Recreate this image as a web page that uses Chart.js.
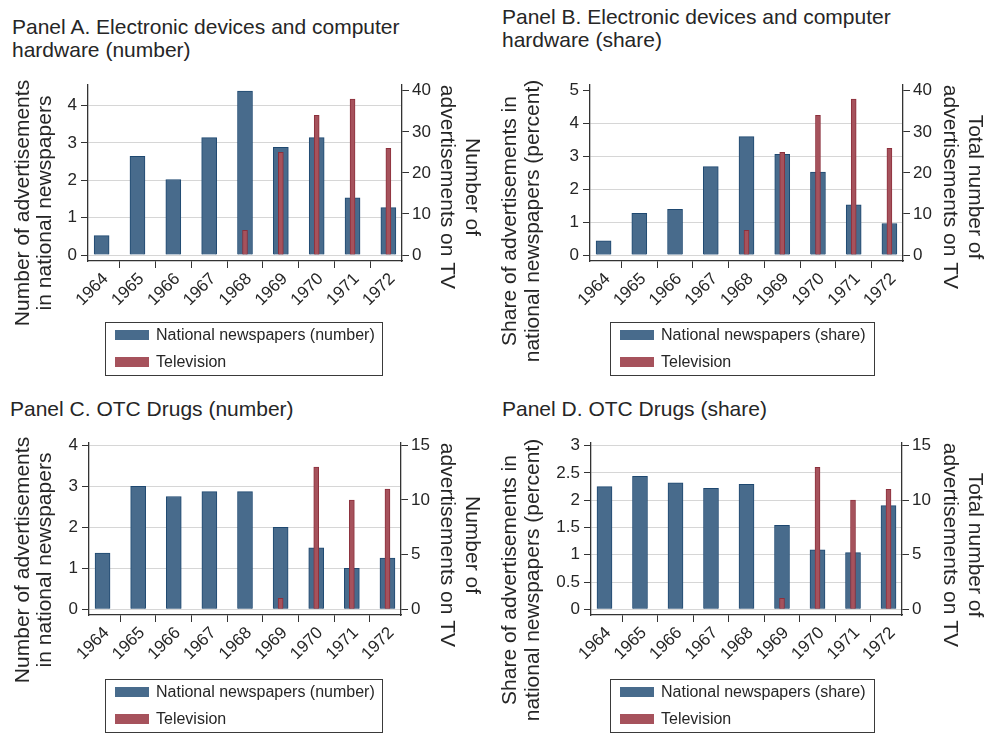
<!DOCTYPE html>
<html>
<head>
<meta charset="utf-8">
<script src="https://cdn.jsdelivr.net/npm/chart.js@4.4.1/dist/chart.umd.min.js"></script>
<style>
    body { margin: 0; background: #fff; width: 987px; height: 733px; position: relative; overflow: hidden;
           font-family: "Liberation Sans", Arial, sans-serif; color: #262626; }
    canvas { position: absolute; }
    .panel-title { position: absolute; font-size: 21px; line-height: 23px; white-space: nowrap; }
    .legend { position: absolute; border: 1.5px solid #3a3a3a; box-sizing: border-box; font-size: 16px; }
    .legend .row { position: absolute; left: 9px; display: flex; align-items: center; height: 20px; }
    .legend .swatch { width: 34px; height: 10px; margin-right: 7px; }
</style>
</head>
<body>
<script>
const FONT = '"Liberation Sans", Arial, sans-serif';

// --- data ---
const years = [1964, 1965, 1966, 1967, 1968, 1969, 1970, 1971, 1972];

const newsNumberElec = [0.52, 2.64, 2.02, 3.14, 4.39, 2.88, 3.14, 1.53, 1.27];
const newsShareElec  = [0.43, 1.27, 1.39, 2.69, 3.60, 3.06, 2.52, 1.53, 0.96];
const tvElec         = [null, null, null, null, 6, 25, 34, 38, 26];

const newsNumberOtc  = [1.37, 3.00, 2.75, 2.87, 2.87, 2.00, 1.50, 1.00, 1.25];
const newsShareOtc   = [2.25, 2.44, 2.32, 2.22, 2.29, 1.54, 1.09, 1.04, 1.90];
const tvOtc          = [null, null, null, null, null, 1, 13, 10, 11];

// tick values
const ticksNumberElec = [0, 1, 2, 3, 4];
const ticksShareElec  = [0, 1, 2, 3, 4, 5];
const ticksTvElec     = [0, 10, 20, 30, 40];
const ticksNumberOtc  = [0, 1, 2, 3, 4];
const ticksShareOtc   = [0, 0.5, 1, 1.5, 2, 2.5, 3];
const ticksTvOtc      = [0, 5, 10, 15];

const BLUE = 'rgb(72, 107, 140)';
const BLUE_EDGE = 'rgb(30, 72, 112)';
const RED = 'rgb(166, 82, 92)';
const RED_EDGE = 'rgb(140, 48, 60)';

// layout of the four panels (page pixels)
const panels = [
    {
        title: ['Panel A. Electronic devices and computer', 'hardware (number)'], titlePos: [12, 15],
        box: { x: 0, y: 0, w: 493, h: 380 }, area: { l: 88, r: 402, t: 85, b: 261 },
        news: newsNumberElec, tv: tvElec, newsLabel: 'National newspapers (number)',
        left: [-0.16, 4.55], leftTicks: ticksNumberElec, right: [-1.46, 41.4], rightTicks: ticksTvElec,
        noGrid: null,
        leftTitle: ['Number of advertisements', 'in national newspapers'], leftX: [23, 45], leftY: 203,
        rightTitle: ['Number of', 'advertisements on TV'], rightX: [472, 447], rightY: 187,
        legend: { x: 105, y: 322, w: 278, h: 54 }
    },
    {
        title: ['Panel B. Electronic devices and computer', 'hardware (share)'], titlePos: [502, 5],
        box: { x: 493, y: 0, w: 494, h: 380 }, area: { l: 590, r: 903, t: 85, b: 261 },
        news: newsShareElec, tv: tvElec, newsLabel: 'National newspapers (share)',
        left: [-0.18, 5.17], leftTicks: ticksShareElec, right: [-1.46, 41.4], rightTicks: ticksTvElec,
        noGrid: 5,
        leftTitle: ['Share of advertisements in', 'national newspapers (percent)'], leftX: [510, 533], leftY: 221,
        rightTitle: ['Total number of', 'advertisements on TV'], rightX: [975, 950], rightY: 187,
        legend: { x: 610, y: 322, w: 265, h: 54 }
    },
    {
        title: ['Panel C. OTC Drugs (number)'], titlePos: [10, 397],
        box: { x: 0, y: 380, w: 493, h: 353 }, area: { l: 89, r: 401, t: 443, b: 615 },
        news: newsNumberOtc, tv: tvOtc, newsLabel: 'National newspapers (number)',
        left: [-0.14, 4.056], leftTicks: ticksNumberOtc, right: [-0.52, 15.21], rightTicks: ticksTvOtc,
        noGrid: null,
        leftTitle: ['Number of advertisements', 'in national newspapers'], leftX: [23, 45], leftY: 560,
        rightTitle: ['Number of', 'advertisements on TV'], rightX: [472, 447], rightY: 545,
        legend: { x: 105, y: 679, w: 278, h: 54 }
    },
    {
        title: ['Panel D. OTC Drugs (share)'], titlePos: [502, 397],
        box: { x: 493, y: 380, w: 494, h: 353 }, area: { l: 591, r: 902, t: 443, b: 615 },
        news: newsShareOtc, tv: tvOtc, newsLabel: 'National newspapers (share)',
        left: [-0.105, 3.05], leftTicks: ticksShareOtc, right: [-0.52, 15.24], rightTicks: ticksTvOtc,
        noGrid: null,
        leftTitle: ['Share of advertisements in', 'national newspapers (percent)'], leftX: [510, 533], leftY: 580,
        rightTitle: ['Total number of', 'advertisements on TV'], rightX: [975, 950], rightY: 545,
        legend: { x: 610, y: 679, w: 265, h: 54 }
    }
];

// draws the rotated axis titles at fixed spots (Stata centres them a bit off the plot)
function axisTitlePlugin(p) {
    return {
        id: 'axisTitles',
        afterDraw(chart) {
            const ctx = chart.ctx;
            ctx.save();
            ctx.fillStyle = '#262626';
            ctx.font = '21px ' + FONT;
            ctx.textAlign = 'center';
            ctx.textBaseline = 'middle';
            p.leftTitle.forEach((t, i) => {
                ctx.save();
                ctx.translate(p.leftX[i] - p.box.x, p.leftY - p.box.y);
                ctx.rotate(-Math.PI / 2);
                ctx.fillText(t, 0, 0);
                ctx.restore();
            });
            p.rightTitle.forEach((t, i) => {
                ctx.save();
                ctx.translate(p.rightX[i] - p.box.x, p.rightY - p.box.y);
                ctx.rotate(Math.PI / 2);
                ctx.fillText(t, 0, 0);
                ctx.restore();
            });
            ctx.restore();
        }
    };
}

function addTitle(p) {
    const div = document.createElement('div');
    div.className = 'panel-title';
    div.style.left = p.titlePos[0] + 'px';
    div.style.top = p.titlePos[1] + 'px';
    div.innerHTML = p.title.join('<br>');
    document.body.appendChild(div);
}

function addLegend(p, chart) {
    const lg = document.createElement('div');
    lg.className = 'legend';
    lg.style.left = p.legend.x + 'px';
    lg.style.top = p.legend.y + 'px';
    lg.style.width = p.legend.w + 'px';
    lg.style.height = p.legend.h + 'px';
    chart.data.datasets.forEach((ds, i) => {
        const row = document.createElement('div');
        row.className = 'row';
        row.style.top = (2 + i * 27) + 'px';
        row.innerHTML = `<span class="swatch" style="background:${ds.backgroundColor}"></span><span>${ds.label}</span>`;
        lg.appendChild(row);
    });
    document.body.appendChild(lg);
}

function makeChart(p) {
    const canvas = document.createElement('canvas');
    canvas.width = p.box.w;
    canvas.height = p.box.h;
    canvas.style.left = p.box.x + 'px';
    canvas.style.top = p.box.y + 'px';
    canvas.style.width = p.box.w + 'px';
    canvas.style.height = p.box.h + 'px';
    document.body.appendChild(canvas);

    const a = {
        l: p.area.l - p.box.x, r: p.area.r - p.box.x,
        t: p.area.t - p.box.y, b: p.area.b - p.box.y
    };
    const tickFont = { family: FONT, size: 17 };

    const chart = new Chart(canvas, {
        type: 'bar',
        data: {
            datasets: [
                {
                    label: p.newsLabel,
                    data: years.map((y, i) => ({ x: y, y: p.news[i] })),
                    backgroundColor: BLUE,
                    borderColor: BLUE_EDGE,
                    borderWidth: 1,
                    barThickness: 15,
                    grouped: false,
                    yAxisID: 'y',
                    order: 2
                },
                {
                    label: 'Television',
                    data: years.map((y, i) => ({ x: y, y: p.tv[i] })),
                    backgroundColor: RED,
                    borderColor: RED_EDGE,
                    borderWidth: 1,
                    barThickness: 5,
                    grouped: false,
                    yAxisID: 'y1',
                    order: 1
                }
            ]
        },
        options: {
            responsive: false,
            animation: false,
            layout: { padding: { top: a.t, left: 0, right: 0, bottom: 0 } },
            plugins: { legend: { display: false }, tooltip: { enabled: false } },
            scales: {
                x: {
                    type: 'linear',
                    min: 1963.62,
                    max: 1972.38,
                    offset: false,
                    afterBuildTicks: s => { s.ticks = years.map(v => ({ value: v })); },
                    afterFit: s => { s.height = p.box.h - a.b; },
                    border: { display: true, color: '#333', width: 1.3 },
                    grid: { drawOnChartArea: false, tickColor: '#333', tickLength: 7 },
                    ticks: {
                        color: '#262626', font: { family: FONT, size: 17 }, autoSkip: false,
                        minRotation: 45, maxRotation: 45, padding: 1, labelOffset: 4,
                        callback: v => String(v)
                    }
                },
                y: {
                    position: 'left',
                    min: p.left[0],
                    max: p.left[1],
                    afterBuildTicks: s => { s.ticks = p.leftTicks.map(v => ({ value: v })); },
                    afterFit: s => { s.width = a.l; },
                    border: { display: true, color: '#333', width: 1.3 },
                    grid: {
                        color: c => (c.tick && c.tick.value === p.noGrid) ? 'rgba(0,0,0,0)' : '#d6d6d6',
                        lineWidth: 1, tickColor: '#333', tickLength: 7
                    },
                    ticks: { color: '#262626', font: tickFont, padding: 4, callback: v => String(v) }
                },
                y1: {
                    position: 'right',
                    min: p.right[0],
                    max: p.right[1],
                    afterBuildTicks: s => { s.ticks = p.rightTicks.map(v => ({ value: v })); },
                    afterFit: s => { s.width = p.box.w - a.r; },
                    border: { display: true, color: '#333', width: 1.3 },
                    grid: { drawOnChartArea: false, tickColor: '#333', tickLength: 7 },
                    ticks: { color: '#262626', font: tickFont, padding: 3, callback: v => String(v) }
                }
            }
        },
        plugins: [axisTitlePlugin(p)]
    });
    return chart;
}

panels.forEach(p => {
    addTitle(p);
    const chart = makeChart(p);
    addLegend(p, chart);
});
</script>
</body>
</html>
